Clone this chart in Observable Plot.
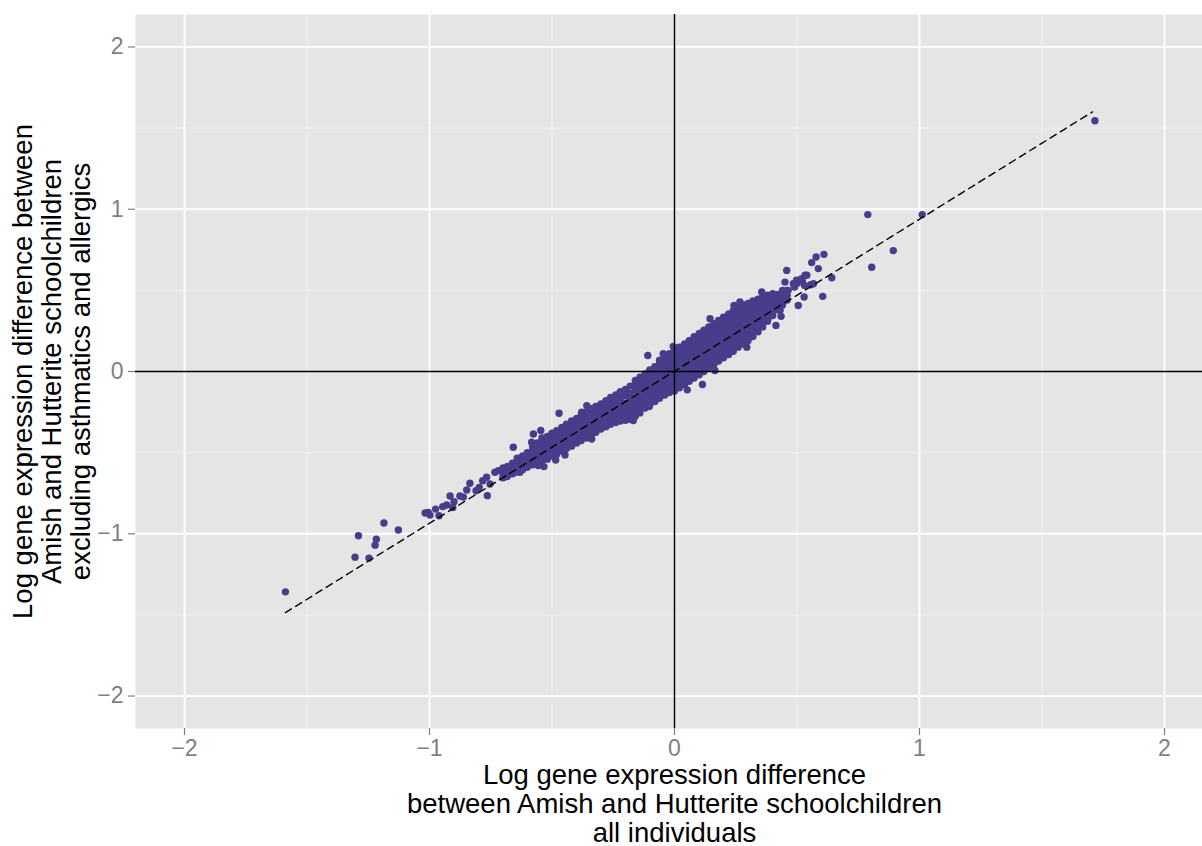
<!DOCTYPE html>
<html>
<head>
<meta charset="utf-8">
<script src="https://cdn.jsdelivr.net/npm/d3@7"></script>
<script src="https://cdn.jsdelivr.net/npm/@observablehq/plot@0.6"></script>
<style>
  html, body { margin: 0; padding: 0; background: #ffffff; overflow: hidden; }
  #chart { width: 1202px; height: 846px; }
  #chart svg { font-family: "Liberation Sans", Arial, Helvetica, sans-serif; }
</style>
</head>
<body>
<div id="chart"></div>
<script>
// Log expression differences, all individuals (x) vs. excluding asthmatics and allergics (y)

// sparse lower tail of the distribution
const tailLow = [
  [-1.588, -1.358], [-1.290, -1.012], [-1.304, -1.144], [-1.247, -1.150],
  [-1.222, -1.070], [-1.217, -1.033], [-1.186, -0.934], [-1.127, -0.977],
  [-1.018, -0.872], [-0.998, -0.885], [-1.005, -0.868], [-0.975, -0.848],
  [-0.961, -0.889], [-0.946, -0.833], [-0.930, -0.823], [-0.916, -0.767],
  [-0.900, -0.802], [-0.905, -0.838], [-0.876, -0.767], [-0.862, -0.774],
  [-0.848, -0.730], [-0.835, -0.689], [-0.810, -0.735], [-0.797, -0.714],
  [-0.783, -0.673], [-0.767, -0.652], [-0.764, -0.765], [-0.753, -0.693],
  [-0.733, -0.621], [-0.719, -0.611], [-0.699, -0.652], [-0.685, -0.648],
  [-0.678, -0.591], [-0.658, -0.467], [-0.651, -0.570], [-0.631, -0.621],
  [-0.617, -0.539], [-0.597, -0.519], [-0.583, -0.498], [-0.569, -0.477],
  [-0.556, -0.580]
];

// scattered genes off the main band
const offBand = [
  [-0.546, -0.364], [-0.576, -0.385], [-0.583, -0.436], [-0.533, -0.586],
  [-0.447, -0.514], [-0.485, -0.545], [-0.471, -0.257], [-0.358, -0.210],
  [-0.379, -0.251], [-0.338, -0.416], [-0.168, -0.302], [-0.103, -0.216],
  [-0.109, 0.099], [-0.046, 0.109], [-0.005, 0.154], [0.052, -0.113],
  [0.114, -0.080], [0.165, 0.006], [0.145, 0.325], [0.243, 0.407],
  [0.295, 0.150]
];

// sparse upper tail of the distribution
const tailHigh = [
  [0.458, 0.623], [0.451, 0.551], [0.505, 0.407], [0.529, 0.459],
  [0.605, 0.463], [0.435, 0.340], [0.414, 0.284], [0.383, 0.331],
  [0.642, 0.578], [0.560, 0.671], [0.578, 0.706], [0.610, 0.722],
  [0.587, 0.634], [0.533, 0.593], [0.512, 0.562], [0.485, 0.541],
  [0.567, 0.541], [0.556, 0.535], [0.540, 0.593], [0.519, 0.572],
  [0.498, 0.562], [0.464, 0.500], [0.431, 0.377], [0.417, 0.418],
  [0.356, 0.490], [0.390, 0.459], [0.267, 0.428], [0.490, 0.520],
  [0.502, 0.545], [0.522, 0.555], [0.531, 0.530], [0.789, 0.967],
  [1.011, 0.967], [0.893, 0.745], [0.805, 0.642], [1.716, 1.545]
];

// dense core: x value and the y values of genes sharing it
const coreColumns = [
  [-0.700, [-0.655, -0.625, -0.595]],
  [-0.682, [-0.645, -0.615, -0.585]],
  [-0.661, [-0.630, -0.600, -0.565]],
  [-0.642, [-0.620, -0.590, -0.560, -0.535]],
  [-0.620, [-0.605, -0.575, -0.545, -0.520]],
  [-0.601, [-0.590, -0.560, -0.530, -0.500]],
  [-0.579, [-0.575, -0.545, -0.515, -0.485, -0.460]],
  [-0.560, [-0.560, -0.530, -0.500, -0.470, -0.440]],
  [-0.541, [-0.550, -0.520, -0.490, -0.460, -0.430, -0.410]],
  [-0.519, [-0.540, -0.510, -0.480, -0.450, -0.420, -0.400]],
  [-0.500, [-0.520, -0.490, -0.460, -0.430, -0.400, -0.380]],
  [-0.481, [-0.510, -0.480, -0.450, -0.420, -0.390, -0.365]],
  [-0.460, [-0.490, -0.460, -0.430, -0.400, -0.370, -0.345]],
  [-0.441, [-0.475, -0.445, -0.415, -0.385, -0.355, -0.325]],
  [-0.420, [-0.460, -0.430, -0.400, -0.370, -0.340, -0.305]],
  [-0.399, [-0.440, -0.410, -0.380, -0.350, -0.320, -0.290]],
  [-0.381, [-0.425, -0.395, -0.365, -0.335, -0.300, -0.270]],
  [-0.360, [-0.410, -0.380, -0.350, -0.320, -0.285, -0.250]],
  [-0.340, [-0.390, -0.360, -0.330, -0.300, -0.265, -0.230]],
  [-0.321, [-0.375, -0.345, -0.315, -0.285, -0.250, -0.215]],
  [-0.300, [-0.355, -0.325, -0.295, -0.265, -0.230, -0.200]],
  [-0.280, [-0.340, -0.310, -0.280, -0.250, -0.215, -0.180]],
  [-0.261, [-0.325, -0.295, -0.265, -0.235, -0.200, -0.160]],
  [-0.240, [-0.315, -0.285, -0.250, -0.215, -0.180, -0.145]],
  [-0.221, [-0.305, -0.275, -0.240, -0.205, -0.165, -0.125]],
  [-0.200, [-0.300, -0.265, -0.230, -0.195, -0.150, -0.110]],
  [-0.181, [-0.295, -0.255, -0.220, -0.180, -0.135, -0.090]],
  [-0.160, [-0.275, -0.240, -0.205, -0.165, -0.120, -0.080, -0.055]],
  [-0.141, [-0.255, -0.220, -0.185, -0.150, -0.110, -0.070, -0.035]],
  [-0.120, [-0.225, -0.195, -0.160, -0.125, -0.090, -0.050, -0.015]],
  [-0.101, [-0.205, -0.175, -0.140, -0.105, -0.070, -0.030, 0.010]],
  [-0.080, [-0.185, -0.155, -0.120, -0.085, -0.050, -0.010, 0.030]],
  [-0.061, [-0.165, -0.135, -0.100, -0.065, -0.030, 0.010, 0.050, 0.070]],
  [-0.040, [-0.145, -0.115, -0.080, -0.045, -0.010, 0.030, 0.065, 0.090]],
  [-0.021, [-0.130, -0.100, -0.065, -0.030, 0.005, 0.045, 0.080, 0.110]],
  [0.000, [-0.120, -0.090, -0.055, -0.020, 0.015, 0.055, 0.095, 0.130]],
  [0.020, [-0.100, -0.070, -0.035, 0.000, 0.035, 0.075, 0.115, 0.150]],
  [0.041, [-0.080, -0.050, -0.015, 0.020, 0.055, 0.095, 0.135, 0.170]],
  [0.060, [-0.060, -0.030, 0.005, 0.040, 0.075, 0.115, 0.155, 0.190]],
  [0.080, [-0.040, -0.010, 0.025, 0.060, 0.095, 0.135, 0.175, 0.215]],
  [0.101, [-0.020, 0.010, 0.045, 0.080, 0.115, 0.155, 0.195, 0.235]],
  [0.120, [0.000, 0.030, 0.065, 0.100, 0.135, 0.175, 0.215, 0.255]],
  [0.140, [0.025, 0.055, 0.090, 0.125, 0.160, 0.200, 0.240, 0.275]],
  [0.161, [0.045, 0.075, 0.110, 0.145, 0.180, 0.220, 0.260, 0.295]],
  [0.180, [0.065, 0.095, 0.130, 0.165, 0.200, 0.240, 0.280, 0.315]],
  [0.200, [0.085, 0.115, 0.150, 0.185, 0.220, 0.260, 0.300, 0.335]],
  [0.221, [0.105, 0.135, 0.170, 0.205, 0.240, 0.280, 0.320, 0.355]],
  [0.240, [0.125, 0.155, 0.190, 0.225, 0.260, 0.300, 0.340, 0.375]],
  [0.260, [0.150, 0.180, 0.215, 0.250, 0.285, 0.325, 0.360, 0.395]],
  [0.281, [0.170, 0.200, 0.235, 0.270, 0.305, 0.340, 0.375, 0.410]],
  [0.300, [0.190, 0.220, 0.255, 0.290, 0.325, 0.360, 0.395, 0.420]],
  [0.320, [0.215, 0.245, 0.280, 0.315, 0.350, 0.385, 0.415, 0.435]],
  [0.341, [0.245, 0.275, 0.310, 0.345, 0.380, 0.410, 0.445]],
  [0.360, [0.275, 0.305, 0.340, 0.375, 0.410, 0.440, 0.460]],
  [0.380, [0.310, 0.340, 0.375, 0.410, 0.440, 0.470]],
  [0.401, [0.345, 0.375, 0.410, 0.445, 0.480]],
  [0.420, [0.380, 0.410, 0.445, 0.475]],
  [0.441, [0.410, 0.440, 0.470, 0.500]],
  [0.460, [0.440, 0.470, 0.500]]
];

// least-squares fit, drawn over the range of the data
const fitX = [-1.588, 1.706];
const fitY = [-1.486, 1.600];

// axis ticks and grid
const majorTicks = [-2, -1, 0, 1, 2];
const minorTicks = [-1.5, -0.5, 0.5, 1.5];

const xTitle = ["Log gene expression difference",
  "between Amish and Hutterite schoolchildren",
  "all individuals"];
const yTitle = ["Log gene expression difference between",
  "Amish and Hutterite schoolchildren",
  "excluding asthmatics and allergics"];

const genes = [
  ...tailLow,
  ...offBand,
  ...coreColumns.flatMap(([x, ys]) => ys.map(y => [x, y])),
  ...tailHigh
].map(([x, y]) => ({x, y}));
const fit = fitX.map((x, i) => ({x, y: fitY[i]}));

const fmt = d => (d < 0 ? "\u2212" + (-d) : String(d));
const grey50 = "#7f7f7f";

const plot = Plot.plot({
  width: 1202,
  height: 846,
  marginLeft: 135,
  marginRight: 0,
  marginTop: 14,
  marginBottom: 118,
  style: {background: "#ffffff", overflow: "hidden"},
  x: {domain: [-2.2, 2.2], range: [135, 1213]},
  y: {domain: [-2.2, 2.2]},
  marks: [
    Plot.frame({fill: "#e5e5e5", stroke: null}),
    Plot.ruleX(minorTicks, {stroke: "#f2f2f2", strokeWidth: 0.9}),
    Plot.ruleY(minorTicks, {stroke: "#f2f2f2", strokeWidth: 0.9}),
    Plot.ruleX(majorTicks.filter(d => d !== 0), {stroke: "#ffffff", strokeWidth: 1.8}),
    Plot.ruleY(majorTicks.filter(d => d !== 0), {stroke: "#ffffff", strokeWidth: 1.8}),
    Plot.dot(genes, {x: "x", y: "y", r: 3.7, fill: "#483d8b", stroke: null}),
    Plot.ruleX([0], {stroke: "#000000", strokeWidth: 1.4}),
    Plot.ruleY([0], {stroke: "#000000", strokeWidth: 1.4}),
    Plot.line(fit, {x: "x", y: "y", stroke: "#000000", strokeWidth: 1.4, strokeDasharray: "7,5"}),
    Plot.axisX(majorTicks, {
      tickSize: 7, tickPadding: 4, fontSize: 23, stroke: grey50, fill: grey50,
      strokeWidth: 1.2, tickFormat: fmt, label: null
    }),
    Plot.axisY(majorTicks, {
      tickSize: 7, tickPadding: 5, fontSize: 23, stroke: grey50, fill: grey50,
      strokeWidth: 1.2, tickFormat: fmt, label: null
    }),
    Plot.text([xTitle.join("\n")], {
      x: () => 0, frameAnchor: "bottom", dy: 75, lineAnchor: "middle", textAnchor: "middle",
      lineHeight: 1.07, fontSize: 27.5, fill: "#000000", text: d => d
    }),
    Plot.text([yTitle.join("\n")], {
      y: () => 0, frameAnchor: "left", dx: -84, rotate: -90, lineAnchor: "middle", textAnchor: "middle",
      lineHeight: 1.05, fontSize: 27.5, fill: "#000000", text: d => d
    })
  ]
});

document.getElementById("chart").appendChild(plot);
</script>
</body>
</html>
